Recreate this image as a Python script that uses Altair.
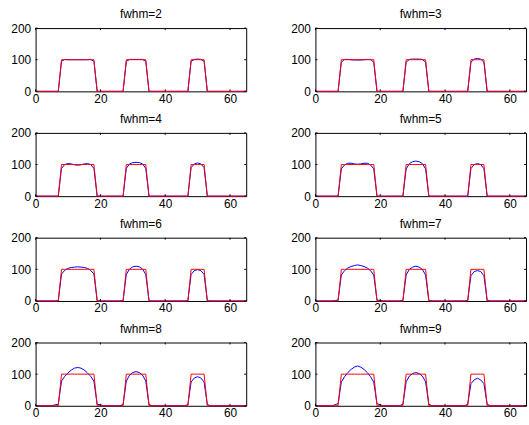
import altair as alt
import pandas as pd

# x positions (samples)
x_vals = list(range(0, 66))

# true boxcar signal (red)
red = [0, 0, 0, 0, 0, 0, 0, 0,
       100, 100, 100, 100, 100, 100, 100, 100, 100, 100, 100,
       0, 0, 0, 0, 0, 0, 0, 0, 0,
       100, 100, 100, 100, 100, 100, 100,
       0, 0, 0, 0, 0, 0, 0, 0, 0, 0, 0, 0, 0,
       100, 100, 100, 100, 100,
       0, 0, 0, 0, 0, 0, 0, 0, 0, 0, 0, 0, 0]

# recovered signal (blue) for each fwhm
blue_2 = [0, 0, 0, 0, 0, 0, 0, 0,
          95, 101, 100, 100, 100, 100, 100, 100, 100, 101, 95,
          0, 0, 0, 0, 0, 0, 0, 0, 0,
          95, 101, 101, 101, 101, 101, 95,
          0, 0, 0, 0, 0, 0, 0, 0, 0, 0, 0, 0, 0,
          95, 101, 102, 101, 95,
          0, 0, 0, 0, 0, 0, 0, 0, 0, 0, 0, 0, 0]
blue_3 = [0, 0, 0, 0, 0, 0, 0, 0,
          92, 101, 101, 100, 99, 99, 99, 100, 101, 101, 92,
          0, 0, 0, 0, 0, 0, 0, 0, 0,
          92, 101, 102, 102, 102, 101, 92,
          0, 0, 0, 0, 0, 0, 0, 0, 0, 0, 0, 0, 0,
          92, 102, 104, 102, 92,
          0, 0, 0, 0, 0, 0, 0, 0, 0, 0, 0, 0, 0]
blue_4 = [0, 0, 0, 0, 0, 0, 0, 0,
          88, 100, 103, 102, 99, 98, 99, 102, 103, 100, 88,
          0, 0, 0, 0, 0, 0, 0, 0, 0,
          88, 102, 106, 107, 106, 102, 88,
          0, 0, 0, 0, 0, 0, 0, 0, 0, 0, 0, 0, 0,
          90, 102, 105, 102, 90,
          0, 0, 0, 0, 0, 0, 0, 0, 0, 0, 0, 0, 0]
blue_5 = [0, 0, 0, 0, 0, 0, 0, 0,
          86, 99, 104, 104, 102, 101, 102, 104, 104, 99, 86,
          0, 0, 0, 0, 0, 0, 0, 0, 0,
          86, 103, 109, 111, 109, 103, 86,
          0, 0, 0, 0, 0, 0, 0, 0, 0, 0, 0, 0, 0,
          87, 100, 103, 100, 87,
          0, 0, 0, 0, 0, 0, 0, 0, 0, 0, 0, 0, 0]
blue_6 = [0, 0, 0, 0, 0, 0, 0, 1,
          85, 97, 103, 106, 107, 108, 107, 106, 103, 97, 85,
          1, 0, 0, 0, 0, 0, 0, 0, 1,
          84, 101, 108, 110, 108, 101, 84,
          1, 0, 0, 0, 0, 0, 0, 0, 0, 0, 0, 0, 1,
          84, 96, 99, 96, 84,
          1, 0, 0, 0, 0, 0, 0, 0, 0, 0, 0, 0, 0]
blue_7 = [0, 0, 0, 0, 0, 0, 1, 3,
          82, 96, 104, 109, 112, 114, 112, 109, 104, 96, 82,
          3, 1, 0, 0, 0, 0, 0, 0, 2,
          82, 100, 107, 110, 107, 100, 82,
          2, 0, 0, 0, 0, 0, 0, 0, 0, 0, 0, 0, 2,
          80, 93, 96, 93, 80,
          2, 0, 0, 0, 0, 0, 0, 0, 0, 0, 0, 0, 0]
blue_8 = [0, 0, 0, 0, 0, 0, 3, 5,
          78, 93, 104, 113, 119, 121, 119, 113, 104, 93, 78,
          5, 3, 0, 0, 0, 0, 0, 0, 4,
          78, 97, 105, 108, 105, 97, 78,
          4, 0, 0, 0, 0, 0, 0, 0, 0, 0, 0, 0, 4,
          75, 88, 92, 88, 75,
          4, 0, 0, 0, 0, 0, 0, 0, 0, 0, 0, 0, 0]
blue_9 = [0, 0, 0, 0, 0, 0, 3, 7,
          75, 92, 105, 115, 122, 126, 122, 115, 105, 92, 75,
          7, 3, 0, 0, 0, 0, 0, 0, 5,
          76, 94, 102, 105, 102, 94, 76,
          5, 0, 0, 0, 0, 0, 0, 0, 0, 0, 0, 0, 5,
          70, 82, 87, 82, 70,
          5, 0, 0, 0, 0, 0, 0, 0, 0, 0, 0, 0, 0]

fwhm_values = [2, 3, 4, 5, 6, 7, 8, 9]
blue_series = [blue_2, blue_3, blue_4, blue_5, blue_6, blue_7, blue_8, blue_9]

x_ticks = [0, 20, 40, 60]
y_ticks = [0, 100, 200]

W, H = 213, 64
FONT = "Liberation Sans"

xscale = alt.Scale(domain=[0, 65], nice=False, zero=False)
yscale = alt.Scale(domain=[0, 200], nice=False)

xaxis = alt.Axis(values=x_ticks, title=None, grid=False, domain=False,
                 tickSize=0, labelPadding=2, labelFlush=False, labelOverlap=False,
                 labelFont=FONT, labelFontSize=12, labelColor="black")
yaxis = alt.Axis(values=y_ticks, title=None, grid=False, domain=False,
                 tickSize=0, labelPadding=5, labelFlush=False, labelOverlap=False,
                 labelFont=FONT, labelFontSize=12, labelColor="black")

xt_df = pd.DataFrame({"t": x_ticks})
yt_df = pd.DataFrame({"t": y_ticks})


def panel(fwhm, blue):
    df = pd.DataFrame({"x": x_vals, "red": red, "blue": blue})
    base = alt.Chart(df)
    blue_line = base.mark_line(color="#0000ff", strokeWidth=1).encode(
        x=alt.X("x:Q", scale=xscale, axis=xaxis),
        y=alt.Y("blue:Q", scale=yscale, axis=yaxis),
    )
    red_line = base.mark_line(color="#ff0000", strokeWidth=1).encode(
        x=alt.X("x:Q", scale=xscale, axis=xaxis),
        y=alt.Y("red:Q", scale=yscale, axis=yaxis),
    )
    tb = alt.Chart(xt_df).mark_rule(color="black", strokeWidth=1).encode(
        x=alt.X("t:Q", scale=xscale, axis=xaxis), y=alt.value(H), y2=alt.value(H - 2))
    tt = alt.Chart(xt_df).mark_rule(color="black", strokeWidth=1).encode(
        x=alt.X("t:Q", scale=xscale, axis=xaxis), y=alt.value(0), y2=alt.value(2))
    tl = alt.Chart(yt_df).mark_rule(color="black", strokeWidth=1).encode(
        y=alt.Y("t:Q", scale=yscale, axis=yaxis), x=alt.value(0), x2=alt.value(2))
    tr = alt.Chart(yt_df).mark_rule(color="black", strokeWidth=1).encode(
        y=alt.Y("t:Q", scale=yscale, axis=yaxis), x=alt.value(W), x2=alt.value(W - 2))
    return alt.layer(blue_line, red_line, tb, tt, tl, tr).properties(
        width=W, height=H,
        title=alt.TitleParams(text=f"fwhm={fwhm}", fontSize=12, font=FONT,
                              fontWeight="normal", color="black", offset=1,
                              anchor="middle", frame="group"),
    )


panels = [panel(f, b) for f, b in zip(fwhm_values, blue_series)]

chart = alt.concat(*panels, columns=2, spacing={"row": 42, "column": 70},
                   bounds="flush").properties(
    padding={"left": 10, "top": 5, "right": 0, "bottom": 0},
    background="white",
).configure_view(stroke="black", strokeWidth=1)

chart.save("out.html", embed_options={"renderer": "svg", "actions": False})
